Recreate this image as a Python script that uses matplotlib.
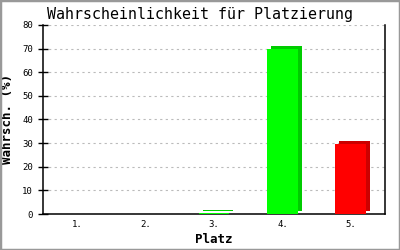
import matplotlib
matplotlib.use("Agg")
import matplotlib.pyplot as plt
import matplotlib.patches as mpatches
import matplotlib.transforms as mtransforms

# data
places = ["1.", "2.", "3.", "4.", "5."]
probs = [0.0, 0.0, 0.5, 70.0, 29.5]
front_colors = ["#00ff00", "#00ff00", "#00ff00", "#00ff00", "#ff0000"]
side_colors = ["#00cc00", "#00cc00", "#00cc00", "#00cc00", "#cc0000"]

plt.rcParams['font.family'] = ['DejaVu Sans Mono']

fig = plt.figure(figsize=(4, 2.5), dpi=100)
ax = fig.add_axes([0.1075, 0.144, 0.855, 0.756])

x = list(range(len(places)))
w = 0.45

# 3D depth: shifted copy behind the front face
shift = mtransforms.ScaledTranslation(4 / 100, 3 / 100, fig.dpi_scale_trans)
for xi, v, sc in zip(x, probs, side_colors):
    if v > 0:
        ax.bar(xi, v, width=w, color=sc, transform=ax.transData + shift, zorder=3)
for xi, v, fc in zip(x, probs, front_colors):
    if v > 0:
        ax.bar(xi, v, width=w, color=fc, zorder=4)

ax.set_xlim(-0.5, len(places) - 0.5)
ax.set_ylim(0, 80)
ax.set_yticks(range(0, 81, 10))
ax.set_xticks(x)
ax.set_xticklabels(places)
ax.tick_params(axis='y', direction='inout', length=6.5, width=1, labelsize=6.5, pad=4)
ax.tick_params(axis='x', length=0, labelsize=6.5, pad=4)
ax.yaxis.grid(True, color='#bbbbbb', linestyle=(0, (2, 3)), linewidth=0.8)
ax.set_axisbelow(True)
ax.spines['top'].set_visible(False)
for s in ['left', 'right', 'bottom']:
    ax.spines[s].set_linewidth(1.1)
    ax.spines[s].set_color('black')

ax.set_xlabel("Platz", fontsize=9, fontweight='bold', labelpad=3)
ax.set_ylabel("Wahrsch. (%)", fontsize=9, fontweight='bold', labelpad=6)
fig.text(0.5, 0.94, "Wahrscheinlichkeit für Platzierung", ha='center', va='center',
         fontsize=10.8)

fig.patches.append(mpatches.Rectangle((0, 0), 1, 1, transform=fig.transFigure,
                                      fill=False, edgecolor='#999999', linewidth=2.5))

fig.savefig("out.png", dpi=100)
